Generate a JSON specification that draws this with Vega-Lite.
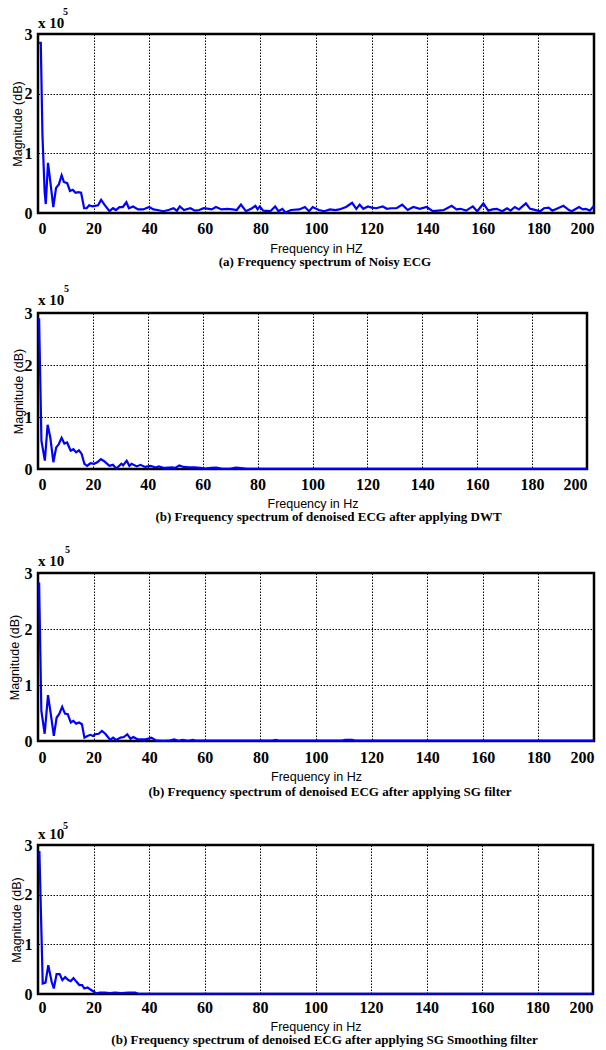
{
"$schema": "https://vega.github.io/schema/vega-lite/v6.json",
"padding": {"left": 0, "top": 5, "right": 0, "bottom": 0},
"background": "white",
"spacing": 12,
"bounds": "full",
"config": {
 "view": {"stroke": "black", "strokeWidth": 2.5},
 "axis": {"domain": false, "ticks": false, "grid": true, "gridColor": "black", "gridDash": [1.5, 1.5], "gridWidth": 1, "gridOpacity": 1, "labelFont": "Liberation Serif", "labelFontWeight": "bold", "labelFontSize": 16, "labelColor": "black", "titleFont": "Liberation Sans", "titleFontWeight": "normal", "titleFontSize": 12.5, "titleColor": "black"},
 "title": {"font": "Liberation Serif", "fontWeight": "bold", "fontSize": 13, "color": "black", "orient": "bottom", "anchor": "middle"},
 "text": {"font": "Liberation Serif", "fontWeight": "bold", "color": "black", "align": "left", "baseline": "alphabetic"}
},
"datasets": {
 "noisy": [
  {"freq": 0.4, "mag": 285000}, {"freq": 1.0, "mag": 285000}, {"freq": 1.6, "mag": 130000}, {"freq": 2.4, "mag": 35000}, {"freq": 2.8, "mag": 15000},
  {"freq": 3.6, "mag": 84000}, {"freq": 4.5, "mag": 50000}, {"freq": 5.5, "mag": 10000}, {"freq": 6.5, "mag": 42000}, {"freq": 7.5, "mag": 48000},
  {"freq": 8.5, "mag": 63000}, {"freq": 9.3, "mag": 52000}, {"freq": 10.5, "mag": 50000}, {"freq": 11.5, "mag": 37000}, {"freq": 12.5, "mag": 39000},
  {"freq": 13.5, "mag": 34000}, {"freq": 14.5, "mag": 35000}, {"freq": 15.5, "mag": 34000}, {"freq": 16.6, "mag": 8000}, {"freq": 17.5, "mag": 8000},
  {"freq": 18.4, "mag": 13000}, {"freq": 19.6, "mag": 11000}, {"freq": 20.5, "mag": 12000}, {"freq": 21.6, "mag": 13000}, {"freq": 22.7, "mag": 22000},
  {"freq": 23.9, "mag": 14000}, {"freq": 25.7, "mag": 3000}, {"freq": 27.0, "mag": 8000}, {"freq": 28.0, "mag": 5000}, {"freq": 29.3, "mag": 10000},
  {"freq": 30.5, "mag": 10000}, {"freq": 31.8, "mag": 18000}, {"freq": 32.7, "mag": 8000}, {"freq": 34.2, "mag": 11000}, {"freq": 36.0, "mag": 6000},
  {"freq": 37.8, "mag": 6000}, {"freq": 40.0, "mag": 10000}, {"freq": 41.5, "mag": 6000}, {"freq": 43.0, "mag": 5000}, {"freq": 45.0, "mag": 3000},
  {"freq": 47.0, "mag": 5000}, {"freq": 48.7, "mag": 8000}, {"freq": 50.0, "mag": 4000}, {"freq": 51.0, "mag": 11000}, {"freq": 52.5, "mag": 5000},
  {"freq": 54.8, "mag": 8000}, {"freq": 56.5, "mag": 4000}, {"freq": 58.0, "mag": 5000}, {"freq": 59.6, "mag": 8000}, {"freq": 61.5, "mag": 7000},
  {"freq": 62.5, "mag": 6000}, {"freq": 64.0, "mag": 10000}, {"freq": 66.0, "mag": 6000}, {"freq": 68.0, "mag": 7000}, {"freq": 70.0, "mag": 6000},
  {"freq": 71.5, "mag": 5000}, {"freq": 73.0, "mag": 14000}, {"freq": 74.8, "mag": 3000}, {"freq": 77.0, "mag": 8000}, {"freq": 78.2, "mag": 12000},
  {"freq": 79.0, "mag": 6000}, {"freq": 79.8, "mag": 11000}, {"freq": 81.0, "mag": 4000}, {"freq": 83.6, "mag": 3000}, {"freq": 85.3, "mag": 11000},
  {"freq": 86.5, "mag": 3000}, {"freq": 87.9, "mag": 7000}, {"freq": 89.0, "mag": 1000}, {"freq": 91.0, "mag": 5000}, {"freq": 94.0, "mag": 6000},
  {"freq": 96.0, "mag": 10000}, {"freq": 97.5, "mag": 3000}, {"freq": 98.8, "mag": 10000}, {"freq": 101.0, "mag": 5000}, {"freq": 103.0, "mag": 3000},
  {"freq": 105.0, "mag": 6000}, {"freq": 107.0, "mag": 5000}, {"freq": 108.4, "mag": 6000}, {"freq": 110.8, "mag": 10000}, {"freq": 113.0, "mag": 17000},
  {"freq": 114.5, "mag": 7000}, {"freq": 115.7, "mag": 14000}, {"freq": 117.0, "mag": 7000}, {"freq": 118.7, "mag": 11000}, {"freq": 120.0, "mag": 9000},
  {"freq": 121.7, "mag": 8000}, {"freq": 124.0, "mag": 11000}, {"freq": 125.5, "mag": 7000}, {"freq": 127.0, "mag": 8000}, {"freq": 129.0, "mag": 8000},
  {"freq": 131.0, "mag": 14000}, {"freq": 133.0, "mag": 5000}, {"freq": 135.0, "mag": 10000}, {"freq": 137.3, "mag": 7000}, {"freq": 139.8, "mag": 10000},
  {"freq": 142.0, "mag": 3000}, {"freq": 144.0, "mag": 4000}, {"freq": 146.0, "mag": 5000}, {"freq": 148.8, "mag": 12000}, {"freq": 150.5, "mag": 6000},
  {"freq": 152.0, "mag": 7000}, {"freq": 154.0, "mag": 4000}, {"freq": 156.4, "mag": 11000}, {"freq": 158.0, "mag": 3000}, {"freq": 160.2, "mag": 16000},
  {"freq": 162.0, "mag": 4000}, {"freq": 163.5, "mag": 6000}, {"freq": 165.0, "mag": 7000}, {"freq": 167.0, "mag": 3000}, {"freq": 168.7, "mag": 8000},
  {"freq": 170.0, "mag": 4000}, {"freq": 171.5, "mag": 10000}, {"freq": 173.0, "mag": 6000}, {"freq": 175.5, "mag": 16000}, {"freq": 177.0, "mag": 7000},
  {"freq": 178.0, "mag": 6000}, {"freq": 180.7, "mag": 3000}, {"freq": 182.0, "mag": 8000}, {"freq": 183.7, "mag": 9000}, {"freq": 185.0, "mag": 4000},
  {"freq": 186.0, "mag": 6000}, {"freq": 189.0, "mag": 12000}, {"freq": 191.0, "mag": 5000}, {"freq": 192.0, "mag": 3000}, {"freq": 194.6, "mag": 10000},
  {"freq": 196.0, "mag": 6000}, {"freq": 197.0, "mag": 7000}, {"freq": 198.5, "mag": 4000}, {"freq": 200.0, "mag": 12000}
 ],
 "dwt": [
  {"freq": 0.4, "mag": 290000}, {"freq": 1.25, "mag": 54000}, {"freq": 2.5, "mag": 16000}, {"freq": 3.5, "mag": 85000}, {"freq": 4.5, "mag": 60000},
  {"freq": 5.6, "mag": 13000}, {"freq": 6.6, "mag": 41000}, {"freq": 7.6, "mag": 48000}, {"freq": 8.6, "mag": 60000}, {"freq": 9.6, "mag": 49000},
  {"freq": 10.6, "mag": 51000}, {"freq": 11.9, "mag": 35000}, {"freq": 12.9, "mag": 38000}, {"freq": 13.9, "mag": 32000}, {"freq": 14.9, "mag": 36000},
  {"freq": 15.9, "mag": 29000}, {"freq": 16.9, "mag": 10000}, {"freq": 17.9, "mag": 6000}, {"freq": 19.1, "mag": 11000}, {"freq": 20.4, "mag": 10000},
  {"freq": 21.6, "mag": 13000}, {"freq": 22.9, "mag": 19000}, {"freq": 24.1, "mag": 15000}, {"freq": 26.0, "mag": 6000}, {"freq": 27.3, "mag": 8000},
  {"freq": 28.5, "mag": 1000}, {"freq": 30.4, "mag": 10000}, {"freq": 31.0, "mag": 7000}, {"freq": 32.3, "mag": 16000}, {"freq": 33.3, "mag": 6000},
  {"freq": 34.1, "mag": 10000}, {"freq": 36.0, "mag": 5000}, {"freq": 37.3, "mag": 8000}, {"freq": 39.0, "mag": 4000}, {"freq": 41.0, "mag": 6000},
  {"freq": 42.9, "mag": 3000}, {"freq": 44.0, "mag": 5000}, {"freq": 46.0, "mag": 2000}, {"freq": 49.0, "mag": 3000}, {"freq": 50.0, "mag": 2000},
  {"freq": 51.5, "mag": 7000}, {"freq": 53.0, "mag": 4000}, {"freq": 55.0, "mag": 3000}, {"freq": 57.0, "mag": 3000}, {"freq": 59.0, "mag": 2000},
  {"freq": 61.0, "mag": 1000}, {"freq": 63.0, "mag": 2000}, {"freq": 65.0, "mag": 2500}, {"freq": 67.0, "mag": 500}, {"freq": 70.0, "mag": 500},
  {"freq": 72.0, "mag": 2500}, {"freq": 74.0, "mag": 1500}, {"freq": 76.0, "mag": 500}, {"freq": 120.0, "mag": 500}, {"freq": 200.0, "mag": 500}
 ],
 "sg": [
  {"freq": 0.4, "mag": 283000}, {"freq": 1.2, "mag": 54000}, {"freq": 2.4, "mag": 13000}, {"freq": 3.6, "mag": 82000}, {"freq": 4.6, "mag": 48000},
  {"freq": 5.7, "mag": 9000}, {"freq": 6.7, "mag": 42000}, {"freq": 7.6, "mag": 48000}, {"freq": 8.7, "mag": 61000}, {"freq": 9.7, "mag": 49000},
  {"freq": 10.7, "mag": 48000}, {"freq": 11.8, "mag": 33000}, {"freq": 12.7, "mag": 36000}, {"freq": 13.7, "mag": 31000}, {"freq": 14.8, "mag": 33000},
  {"freq": 15.8, "mag": 30000}, {"freq": 16.7, "mag": 6000}, {"freq": 17.8, "mag": 9000}, {"freq": 18.8, "mag": 11000}, {"freq": 19.8, "mag": 9000},
  {"freq": 20.6, "mag": 12000}, {"freq": 21.8, "mag": 13000}, {"freq": 23.0, "mag": 18000}, {"freq": 24.2, "mag": 13000}, {"freq": 26.0, "mag": 2000},
  {"freq": 27.0, "mag": 6000}, {"freq": 28.1, "mag": 2000}, {"freq": 29.7, "mag": 6000}, {"freq": 30.9, "mag": 7000}, {"freq": 32.1, "mag": 12000},
  {"freq": 33.3, "mag": 4000}, {"freq": 34.3, "mag": 7000}, {"freq": 35.8, "mag": 3000}, {"freq": 38.8, "mag": 3000}, {"freq": 40.8, "mag": 6000},
  {"freq": 42.4, "mag": 1000}, {"freq": 44.8, "mag": 300}, {"freq": 47.0, "mag": 500}, {"freq": 49.0, "mag": 3000}, {"freq": 50.5, "mag": 500},
  {"freq": 52.0, "mag": 2000}, {"freq": 54.0, "mag": 500}, {"freq": 55.7, "mag": 2000}, {"freq": 57.0, "mag": 500}, {"freq": 84.0, "mag": 500},
  {"freq": 85.5, "mag": 2000}, {"freq": 87.0, "mag": 500}, {"freq": 109.0, "mag": 500}, {"freq": 110.5, "mag": 2000}, {"freq": 113.0, "mag": 2000},
  {"freq": 114.5, "mag": 500}, {"freq": 200.0, "mag": 500}
 ],
 "sgs": [
  {"freq": 0.5, "mag": 288000}, {"freq": 1.7, "mag": 21000}, {"freq": 2.7, "mag": 23000}, {"freq": 3.7, "mag": 58000}, {"freq": 4.9, "mag": 25000},
  {"freq": 5.7, "mag": 11000}, {"freq": 6.7, "mag": 40000}, {"freq": 7.8, "mag": 40000}, {"freq": 8.8, "mag": 28000}, {"freq": 9.8, "mag": 34000},
  {"freq": 10.9, "mag": 28000}, {"freq": 11.8, "mag": 26000}, {"freq": 12.8, "mag": 32000}, {"freq": 13.8, "mag": 25000}, {"freq": 14.9, "mag": 18000},
  {"freq": 15.9, "mag": 18000}, {"freq": 16.7, "mag": 11000}, {"freq": 17.9, "mag": 13000}, {"freq": 18.9, "mag": 9000}, {"freq": 20.0, "mag": 5000},
  {"freq": 21.0, "mag": 1000}, {"freq": 22.2, "mag": 3000}, {"freq": 24.0, "mag": 3000}, {"freq": 26.0, "mag": 2000}, {"freq": 27.7, "mag": 3000},
  {"freq": 30.0, "mag": 2000}, {"freq": 32.6, "mag": 3000}, {"freq": 35.0, "mag": 3000}, {"freq": 36.2, "mag": 500}, {"freq": 200.0, "mag": 500}
 ]
},
"vconcat": [
 {
  "width": 556, "height": 179,
  "title": {"text": "(a) Frequency spectrum of Noisy ECG", "offset": 1, "dx": 9},
  "layer": [
   {"data": {"name": "noisy"}, "mark": {"type": "line", "color": "#0000ff", "strokeWidth": 2.2},
    "encoding": {
     "x": {"field": "freq", "type": "quantitative", "scale": {"domain": [0, 200], "nice": false}, "axis": {"values": [0, 20, 40, 60, 80, 100, 120, 140, 160, 180, 200], "title": "Frequency in HZ", "labelPadding": 7, "titlePadding": 6}},
     "y": {"field": "mag", "type": "quantitative", "scale": {"domain": [0, 300000], "nice": false}, "axis": {"values": [0, 100000, 200000, 300000], "labelExpr": "datum.value / 100000", "title": "Magnitude (dB)", "labelPadding": 6, "minExtent": 36, "maxExtent": 36, "titleX": -21, "titleBaseline": "middle"}}
    }},
   {"data": {"values": [{}]}, "mark": {"type": "text", "text": "x 10", "fontSize": 15, "dy": -6}, "encoding": {"x": {"datum": 0}, "y": {"datum": 300000}}},
   {"data": {"values": [{}]}, "mark": {"type": "text", "text": "5", "fontSize": 10, "dx": 25, "dy": -19}, "encoding": {"x": {"datum": 0}, "y": {"datum": 300000}}}
  ]
 },
 {
  "width": 549, "height": 156,
  "title": {"text": "(b) Frequency spectrum of denoised ECG after applying DWT", "offset": 1.5, "dx": 16, "subtitle": " ", "subtitleFontSize": 1, "subtitlePadding": 4},
  "layer": [
   {"data": {"name": "dwt"}, "mark": {"type": "line", "color": "#0000ff", "strokeWidth": 2.2},
    "encoding": {
     "x": {"field": "freq", "type": "quantitative", "scale": {"domain": [0, 200], "nice": false}, "axis": {"values": [0, 20, 40, 60, 80, 100, 120, 140, 160, 180, 200], "title": "Frequency in Hz", "labelPadding": 7, "titlePadding": 5}},
     "y": {"field": "mag", "type": "quantitative", "scale": {"domain": [0, 300000], "nice": false}, "axis": {"values": [0, 100000, 200000, 300000], "labelExpr": "datum.value / 100000", "title": "Magnitude (dB)", "labelPadding": 6, "minExtent": 36, "maxExtent": 36, "titleX": -20, "titleBaseline": "middle"}}
    }},
   {"data": {"values": [{}]}, "mark": {"type": "text", "text": "x 10", "fontSize": 15, "dy": -8}, "encoding": {"x": {"datum": 0}, "y": {"datum": 300000}}},
   {"data": {"values": [{}]}, "mark": {"type": "text", "text": "5", "fontSize": 10, "dx": 26, "dy": -21}, "encoding": {"x": {"datum": 0}, "y": {"datum": 300000}}}
  ]
 },
 {
  "width": 556, "height": 168,
  "title": {"text": "(b) Frequency spectrum of denoised ECG after applying SG filter", "offset": 3, "dx": 14, "subtitle": " ", "subtitleFontSize": 1, "subtitlePadding": 6},
  "layer": [
   {"data": {"name": "sg"}, "mark": {"type": "line", "color": "#0000ff", "strokeWidth": 2.2},
    "encoding": {
     "x": {"field": "freq", "type": "quantitative", "scale": {"domain": [0, 200], "nice": false}, "axis": {"values": [0, 20, 40, 60, 80, 100, 120, 140, 160, 180, 200], "title": "Frequency in Hz", "labelPadding": 8, "titlePadding": 5}},
     "y": {"field": "mag", "type": "quantitative", "scale": {"domain": [0, 300000], "nice": false}, "axis": {"values": [0, 100000, 200000, 300000], "labelExpr": "datum.value / 100000", "title": "Magnitude (dB)", "labelPadding": 6, "minExtent": 36, "maxExtent": 36, "titleX": -24, "titleBaseline": "middle"}}
    }},
   {"data": {"values": [{}]}, "mark": {"type": "text", "text": "x 10", "fontSize": 15, "dy": -7}, "encoding": {"x": {"datum": 0}, "y": {"datum": 300000}}},
   {"data": {"values": [{}]}, "mark": {"type": "text", "text": "5", "fontSize": 10, "dx": 27, "dy": -20}, "encoding": {"x": {"datum": 0}, "y": {"datum": 300000}}}
  ]
 },
 {
  "width": 555, "height": 149,
  "title": {"text": "(b) Frequency spectrum of denoised ECG after applying SG Smoothing filter", "offset": 1, "dx": 9},
  "layer": [
   {"data": {"name": "sgs"}, "mark": {"type": "line", "color": "#0000ff", "strokeWidth": 2.2},
    "encoding": {
     "x": {"field": "freq", "type": "quantitative", "scale": {"domain": [0, 200], "nice": false}, "axis": {"values": [0, 20, 40, 60, 80, 100, 120, 140, 160, 180, 200], "title": "Frequency in Hz", "labelPadding": 5, "titlePadding": 5}},
     "y": {"field": "mag", "type": "quantitative", "scale": {"domain": [0, 300000], "nice": false}, "axis": {"values": [0, 100000, 200000, 300000], "labelExpr": "datum.value / 100000", "title": "Magnitude (dB)", "labelPadding": 6, "minExtent": 36, "maxExtent": 36, "titleX": -22, "titleBaseline": "middle"}}
    }},
   {"data": {"values": [{}]}, "mark": {"type": "text", "text": "x 10", "fontSize": 15, "dy": -6}, "encoding": {"x": {"datum": 0}, "y": {"datum": 300000}}},
   {"data": {"values": [{}]}, "mark": {"type": "text", "text": "5", "fontSize": 10, "dx": 25, "dy": -16}, "encoding": {"x": {"datum": 0}, "y": {"datum": 300000}}}
  ]
 }
]
}
